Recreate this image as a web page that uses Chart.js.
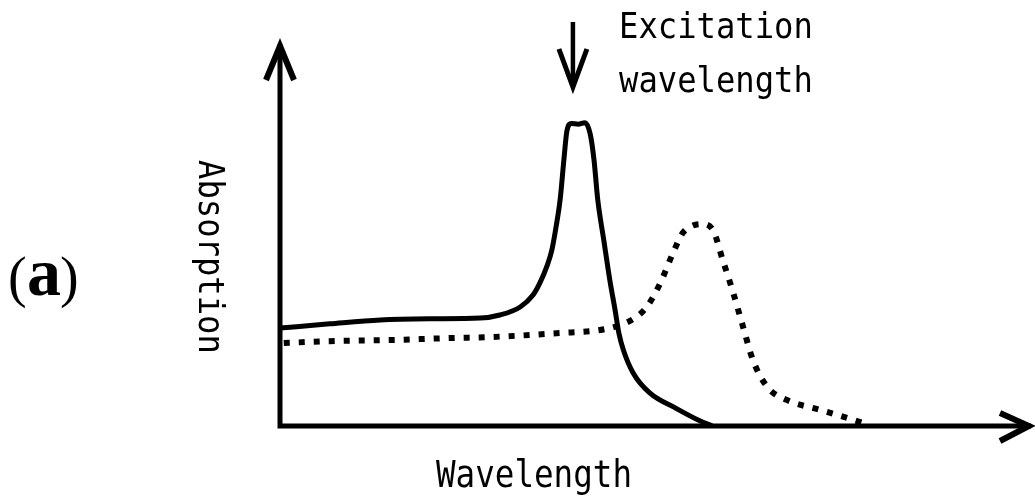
<!DOCTYPE html>
<html>
<head>
<meta charset="utf-8">
<title>Absorption spectra</title>
<script src="https://cdn.jsdelivr.net/npm/chart.js@4.4.1/dist/chart.umd.min.js"></script>
<style>
  html, body { margin: 0; padding: 0; background: #fff; }
  #wrap { width: 1035px; height: 500px; }
</style>
</head>
<body>
<div id="wrap"><canvas id="spectrum"></canvas></div>
<script>
// absorption curves, arbitrary units (wavelength 0-100, absorption 0-100)
const solidX = [0, 6.6, 13.3, 19.9, 26.6, 29.2, 31.9, 33.6, 34.5, 35.5, 36.1, 36.7, 37.2, 37.7, 38.1, 38.7, 39.6, 40.5, 41.2, 41.7, 42.2, 43.0, 43.8, 44.5, 45.0, 45.6, 46.9, 49.1, 52.6, 55.6, 57.4];
const solidY = [25.5, 26.6, 27.6, 27.9, 28.1, 28.9, 31.0, 34.1, 37.2, 41.9, 45.8, 52.3, 58.9, 69.3, 76.8, 78.8, 78.6, 79.0, 76.0, 69.3, 58.9, 48.4, 38.0, 30.2, 24.2, 19.8, 13.8, 8.6, 4.6, 1.5, 0];
const dottedX = [0.5, 6.6, 15.0, 22.6, 28.3, 37.2, 42.5, 45.2, 47.1, 48.7, 50.5, 52.2, 53.5, 54.7, 56.0, 57.5, 58.8, 60.2, 61.5, 62.8, 64.7, 67.3, 71.7, 75.3, 77.4];
const dottedY = [21.6, 22.1, 22.4, 22.9, 23.2, 24.2, 25.0, 26.3, 28.1, 31.0, 37.2, 45.1, 50.3, 52.1, 52.6, 51.0, 43.2, 34.6, 25.8, 17.2, 10.2, 6.8, 4.2, 2.1, 0.8];
const excitationX = 38.9;

const xTitle = 'Wavelength';
const yTitle = 'Absorption';
const noteLines = ['Excitation', 'wavelength'];
const panelLabel = 'a';

const toPoints = (xs, ys) => xs.map((x, i) => ({ x: x, y: ys[i] }));

const mono = '"DejaVu Sans Mono", "Liberation Mono", monospace';

// draw a line of text squeezed horizontally, like the narrow typewriter lettering
function narrowText(ctx, text, x, y, size, sx) {
    ctx.save();
    ctx.translate(x, y);
    ctx.scale(sx, 1);
    ctx.font = size + 'px ' + mono;
    ctx.fillText(text, 0, 0);
    ctx.restore();
}

function chevron(ctx, tipX, tipY, ax, ay, bx, by) {
    ctx.beginPath();
    ctx.moveTo(ax, ay);
    ctx.lineTo(tipX, tipY);
    ctx.lineTo(bx, by);
    ctx.stroke();
}

const sketchAxes = {
    id: 'sketchAxes',
    afterDraw(chart) {
        const ctx = chart.ctx;
        const xs = chart.scales.x, ys = chart.scales.y;
        const x0 = xs.getPixelForValue(0);
        const y0 = ys.getPixelForValue(0);
        const top = ys.getPixelForValue(100);
        const right = xs.getPixelForValue(100);

        ctx.save();
        ctx.strokeStyle = '#000';
        ctx.fillStyle = '#000';
        ctx.lineCap = 'butt';
        ctx.lineJoin = 'miter';

        // axes with open arrowheads
        ctx.lineWidth = 5;
        ctx.beginPath();
        ctx.moveTo(x0, y0 + 2.5);
        ctx.lineTo(x0, top + 2);
        ctx.moveTo(x0 - 2.5, y0);
        ctx.lineTo(right - 2, y0);
        ctx.stroke();
        ctx.lineWidth = 6;
        chevron(ctx, x0, top + 4, x0 - 14, top + 38, x0 + 14, top + 38);
        chevron(ctx, right - 4, y0, right - 33, y0 - 13, right - 33, y0 + 15);

        // excitation marker
        const ex = xs.getPixelForValue(excitationX);
        ctx.lineWidth = 4.5;
        ctx.beginPath();
        ctx.moveTo(ex, 22);
        ctx.lineTo(ex, 84);
        ctx.stroke();
        ctx.lineWidth = 5;
        chevron(ctx, ex, 87, ex - 14, 49, ex + 14, 49);

        // labels
        ctx.textBaseline = 'alphabetic';
        ctx.textAlign = 'left';
        narrowText(ctx, noteLines[0], 619, 38, 35, 0.92);
        narrowText(ctx, noteLines[1], 619, 92, 35, 0.92);
        narrowText(ctx, xTitle, 436, 487, 37, 0.88);

        ctx.save();
        ctx.translate(199, 160);
        ctx.rotate(Math.PI / 2);
        narrowText(ctx, yTitle, 0, 0, 35, 0.92);
        ctx.restore();

        ctx.font = '56px "Liberation Serif", "DejaVu Serif", serif';
        ctx.fillText('(', 8, 296);
        ctx.font = 'bold 68px "Liberation Serif", "DejaVu Serif", serif';
        ctx.fillText(panelLabel, 27, 295);
        ctx.font = '56px "Liberation Serif", "DejaVu Serif", serif';
        ctx.fillText(')', 60, 296);
        ctx.restore();
    }
};

new Chart(document.getElementById('spectrum'), {
    type: 'line',
    data: {
        datasets: [{
            label: 'solid',
            data: toPoints(solidX, solidY),
            borderColor: '#000',
            borderWidth: 5,
            pointRadius: 0,
            cubicInterpolationMode: 'monotone',
            clip: false
        }, {
            label: 'dotted',
            data: toPoints(dottedX, dottedY),
            borderColor: '#000',
            borderWidth: 6,
            borderDash: [6, 9],
            borderCapStyle: 'butt',
            pointRadius: 0,
            cubicInterpolationMode: 'monotone',
            clip: false
        }]
    },
    options: {
        responsive: true,
        maintainAspectRatio: false,
        animation: false,
        layout: {
            padding: { left: 280, right: 2, top: 42, bottom: 74 }
        },
        scales: {
            x: { type: 'linear', min: 0, max: 100, display: false },
            y: { type: 'linear', min: 0, max: 100, display: false }
        },
        plugins: {
            legend: { display: false },
            tooltip: { enabled: false }
        }
    },
    plugins: [sketchAxes]
});
</script>
</body>
</html>
